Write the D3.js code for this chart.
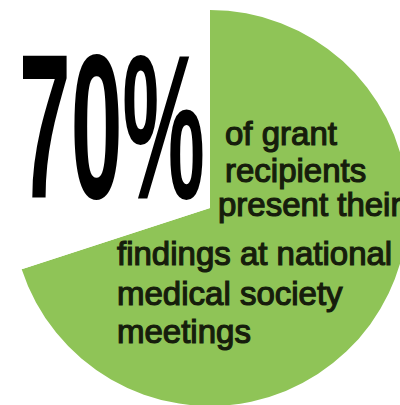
<!DOCTYPE html>
<html lang="en">
<head>
    <meta charset="UTF-8">
    <title>70% of grant recipients</title>
    <script src="https://d3js.org/d3.v7.min.js"></script>
</head>
<body style="margin:0;background:#fff;">
<style>
    svg { display: block; }
    .bigpct { font-family: "Liberation Sans", Arial, sans-serif; font-weight: bold; fill: #000; }
    .caption { font-family: "Liberation Sans", Arial, sans-serif; fill: #161d0c; stroke: #161d0c; stroke-width: 1.2px; }
</style>

<div id="chart"></div>

<script>
    // share of grant recipients who present / do not present
    var labels = ["present", "other"];
    var values = [70, 30];
    var sliceColors = ["#8fc457", "#ffffff"];

    var headline = "70%";
    var captionLines = [
        "of grant",
        "recipients",
        "present their",
        "findings at national",
        "medical society",
        "meetings"
    ];

    var width = 400, height = 405;
    var cx = 210, cy = 208, radius = 198;

    var svg = d3.select("#chart").append("svg")
        .attr("width", width)
        .attr("height", height);

    var pie = d3.pie().sort(null).value(function(d){ return d; });
    var arc = d3.arc().innerRadius(0).outerRadius(radius);

    var g = svg.append("g").attr("transform", "translate(" + cx + "," + cy + ")");

    g.selectAll("path").data(pie(values)).enter().append("path")
        .attr("d", arc)
        .attr("fill", function(d, i){ return sliceColors[i]; });

    // big number
    svg.append("text")
        .attr("class", "bigpct")
        .attr("x", 19)
        .attr("y", 198)
        .attr("font-size", 206)
        .attr("textLength", 186)
        .attr("lengthAdjust", "spacingAndGlyphs")
        .text(headline);

    // caption lines
    var linePos = [
        {x: 225, y: 145},
        {x: 225, y: 182},
        {x: 218, y: 216},
        {x: 117, y: 265},
        {x: 117, y: 305},
        {x: 117, y: 343}
    ];

    svg.selectAll(".caption").data(captionLines).enter().append("text")
        .attr("class", "caption")
        .attr("x", function(d, i){ return linePos[i].x; })
        .attr("y", function(d, i){ return linePos[i].y; })
        .attr("font-size", 33)
        .text(function(d){ return d; });

</script>
</body>
</html>
